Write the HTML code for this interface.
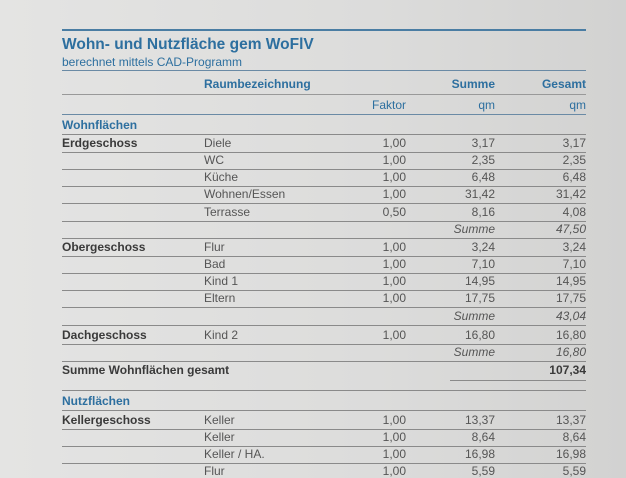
<!DOCTYPE html>
<html><head><meta charset="utf-8"><style>
body{margin:0;width:626px;height:470px;overflow:hidden;background:linear-gradient(90deg,#e4e4e3 0%,#dcdcdb 60%,#d2d2d1 100%);font-family:"Liberation Sans",sans-serif;color:#3a3a3a;position:relative}
.t{position:absolute;white-space:nowrap;font-size:12px;line-height:14px}
.l{position:absolute;left:62px;width:524px;height:1px;background:#8a8a8a}
.b{font-weight:bold}
.blue{color:#2d6f9f}
.r{text-align:right}
.i{font-style:italic}
.lt{color:#555}
</style></head><body>
<div class="l" style="top:29px;background:#4a7da3;height:1.5px"></div>
<div class="t b blue" style="left:62px;top:36px;font-size:15.5px;line-height:18px">Wohn- und Nutzfläche gem WoFlV</div>
<div class="t blue" style="left:62px;top:55px;font-size:12px">berechnet mittels CAD-Programm</div>
<div class="l" style="top:70px;background:#6a8aa5"></div>
<div class="t b blue" style="left:204px;top:77px">Raumbezeichnung</div>
<div class="t b blue r" style="left:395px;width:100px;top:77px">Summe</div>
<div class="t b blue r" style="left:486px;width:100px;top:77px">Gesamt</div>
<div class="l" style="top:94px;background:#999"></div>
<div class="t blue r" style="left:306px;width:100px;top:98px">Faktor</div>
<div class="t blue r" style="left:395px;width:100px;top:98px">qm</div>
<div class="t blue r" style="left:486px;width:100px;top:98px">qm</div>
<div class="l" style="top:114px;background:#6a8aa5"></div>
<div id="rows"></div>
<div class="l" style="top:380px;left:450px;width:136px"></div>
<script>
// [y, geschoss, raum, faktor, summe, gesamt, kind]
const rowY=[125,143,160,177,194,212,229,247,264,281,298,316,335,352,370,401,420,437,454,471];
const geschoss=["Wohnflächen","Erdgeschoss","","","","","","Obergeschoss","","","","","Dachgeschoss","","Summe Wohnflächen gesamt","Nutzflächen","Kellergeschoss","","",""];
const raum=["","Diele","WC","Küche","Wohnen/Essen","Terrasse","","Flur","Bad","Kind 1","Eltern","","Kind 2","","","","Keller","Keller","Keller / HA.","Flur"];
const faktor=["","1,00","1,00","1,00","1,00","0,50","","1,00","1,00","1,00","1,00","","1,00","","","","1,00","1,00","1,00","1,00"];
const summe=["","3,17","2,35","6,48","31,42","8,16","Summe","3,24","7,10","14,95","17,75","Summe","16,80","Summe","","","13,37","8,64","16,98","5,59"];
const gesamt=["","3,17","2,35","6,48","31,42","4,08","47,50","3,24","7,10","14,95","17,75","43,04","16,80","16,80","107,34","","13,37","8,64","16,98","5,59"];
const kind=["sec","row","row","row","row","row","sum","row","row","row","row","sum","row","sum","tot","sec","row","row","row","row"];
const host=document.getElementById('rows');
function txt(s,x,y,w,cls,name){
  const d=document.createElement('div');
  d.className='t '+cls;
  d.style.left=x+'px';d.style.top=(y-7)+'px';
  if(w)d.style.width=w+'px';
  d.textContent=s;
  
  
  host.appendChild(d);
}
for(let i=0;i<rowY.length;i++){
  const y=rowY[i],k=kind[i];
  if(geschoss[i]){
    const c=k==='sec'?'b blue':'b';
    txt(geschoss[i],62,y,0,c,'row-label');
  }
  if(raum[i])txt(raum[i],204,y,0,'lt','room-name');
  if(faktor[i])txt(faktor[i],306,y,100,'r lt','factor-value');
  if(summe[i])txt(summe[i],395,y,100,'r lt'+(k==='sum'?' i':''),'sum-value');
  if(gesamt[i])txt(gesamt[i],486,y,100,'r'+(k==='sum'?' i':'')+(k==='tot'?' b':' lt'),'total-value');
  if(k!=='tot'&&i<rowY.length-1){
    const ln=document.createElement('div');
    ln.className='l';
    ln.style.top=(y+9)+'px';
    
    
    host.appendChild(ln);
  }
}
const sep=document.createElement('div');
sep.className='l';sep.style.top='390px';


host.appendChild(sep);
</script>
</body></html>
